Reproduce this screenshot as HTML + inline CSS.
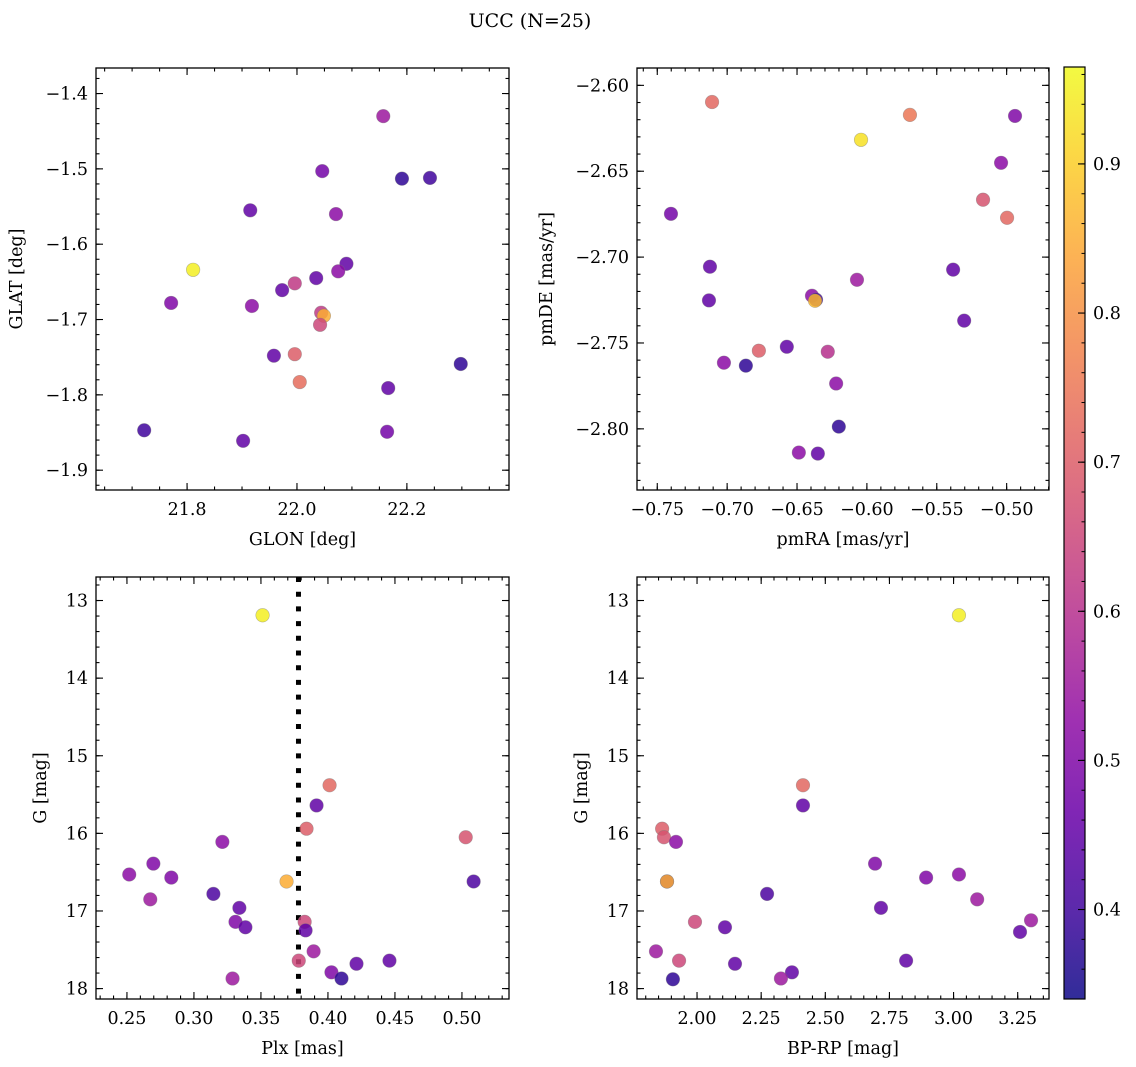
<!DOCTYPE html>
<html><head><meta charset="utf-8"><style>
html,body{margin:0;padding:0;background:#fff;}
svg{display:block;font-family:"DejaVu Serif","Liberation Serif",serif;}
</style></head><body>
<svg id="fig" width="1136" height="1067" viewBox="0 0 1136 1067" xmlns="http://www.w3.org/2000/svg">
<text x="530" y="27" font-size="19" text-anchor="middle">UCC (N=25)</text>
</svg>
<script>
// ---- data ----
const glon = [22.157,22.046,22.191,22.242,21.915,22.071,21.811,22.090,22.035,22.075,21.996,21.973,21.771,21.918,22.044,22.049,22.042,21.958,21.996,22.005,22.166,22.298,21.722,21.902,22.164];
const glat = [-1.430,-1.503,-1.513,-1.512,-1.555,-1.560,-1.634,-1.626,-1.645,-1.636,-1.652,-1.661,-1.678,-1.682,-1.691,-1.695,-1.707,-1.748,-1.746,-1.783,-1.791,-1.759,-1.847,-1.861,-1.849];
const probTL = [0.55,0.48,0.38,0.40,0.45,0.52,0.95,0.45,0.45,0.52,0.62,0.45,0.50,0.52,0.62,0.85,0.65,0.45,0.70,0.73,0.45,0.38,0.40,0.45,0.48];

const pmra = [-0.7108,-0.5692,-0.6042,-0.4940,-0.5040,-0.5169,-0.4997,-0.7402,-0.7123,-0.5383,-0.6071,-0.7130,-0.6393,-0.6364,-0.6371,-0.5304,-0.7023,-0.6866,-0.6773,-0.6573,-0.6280,-0.6220,-0.6201,-0.6487,-0.6351];
const pmde = [-2.6097,-2.6172,-2.6317,-2.6178,-2.6451,-2.6666,-2.6771,-2.6748,-2.7056,-2.7073,-2.7132,-2.7252,-2.7225,-2.7248,-2.7254,-2.7370,-2.7615,-2.7632,-2.7545,-2.7522,-2.7551,-2.7736,-2.7987,-2.8138,-2.8144];
const probTR = [0.72,0.75,0.93,0.50,0.52,0.68,0.72,0.48,0.45,0.45,0.55,0.45,0.52,0.40,0.87,0.45,0.52,0.38,0.70,0.45,0.60,0.52,0.38,0.52,0.45];

const plx = [0.3512,0.4012,0.3915,0.3840,0.5028,0.3212,0.2697,0.2517,0.2831,0.2674,0.5087,0.3691,0.3145,0.3339,0.3310,0.3384,0.3826,0.3833,0.3893,0.3782,0.4213,0.4459,0.4026,0.4101,0.3288];
const gmagL = [13.19,15.38,15.64,15.94,16.05,16.11,16.39,16.53,16.57,16.85,16.62,16.62,16.78,16.96,17.14,17.21,17.14,17.25,17.52,17.64,17.68,17.64,17.79,17.87,17.87];
const probBL = [0.95,0.72,0.45,0.70,0.68,0.52,0.50,0.52,0.50,0.55,0.42,0.85,0.42,0.45,0.50,0.45,0.65,0.45,0.55,0.65,0.45,0.45,0.50,0.38,0.55];
const plxCut = [0.378];

const bprp = [3.021,2.413,2.413,1.864,1.871,1.918,2.694,3.021,2.893,3.092,1.883,1.883,2.273,2.717,3.302,3.259,2.109,1.992,1.840,1.930,2.148,2.815,2.370,2.327,1.906];
const gmagR = [13.19,15.38,15.64,15.94,16.05,16.11,16.39,16.53,16.57,16.85,16.62,16.62,16.78,16.96,17.12,17.27,17.21,17.14,17.52,17.64,17.68,17.64,17.79,17.87,17.88];
const probBR = [0.95,0.72,0.45,0.70,0.68,0.52,0.50,0.52,0.50,0.55,0.42,0.85,0.42,0.45,0.55,0.45,0.45,0.65,0.55,0.65,0.45,0.45,0.45,0.55,0.38];

const cbTicks = [0.4,0.5,0.6,0.7,0.8,0.9];
const cMin = 0.34, cMax = 0.965;

// ---- helpers ----
const NS = "http://www.w3.org/2000/svg";
const svg = document.getElementById('fig');
function mk(tag, attrs, parent){const e=document.createElementNS(NS,tag);for(const k in attrs)e.setAttribute(k,attrs[k]);(parent||svg).appendChild(e);return e;}
const stops=["#0d0887","#41049d","#6a00a8","#8f0da4","#b12a90","#cc4778","#e16462","#f2844b","#fca636","#fcce25","#f0f921"];
function hex(h){return [parseInt(h.substr(1,2),16),parseInt(h.substr(3,2),16),parseInt(h.substr(5,2),16)];}
function plasma(t){t=Math.max(0,Math.min(1,t));const f=t*10,i=Math.min(9,Math.floor(f)),r=f-i;const a=hex(stops[i]),b=hex(stops[i+1]);
 return "rgb("+a.map((v,k)=>Math.round(v+(b[k]-v)*r)).join(",")+")";}
function cmap(v){return plasma((v-cMin)/(cMax-cMin));}
function fmt(v,d){const s=Math.abs(v).toFixed(d);return (v<-1e-9?"\u2212":"")+s;}
const FS=17.5;

function panel(o){
  const g=mk('g',{});
  
  
  const sx=v=>o.x0+(v-o.xmin)/(o.xmax-o.xmin)*(o.x1-o.x0);
  const sy=o.inv ? (v=>o.y0+(v-o.ymin)/(o.ymax-o.ymin)*(o.y1-o.y0)) : (v=>o.y0+(o.ymax-v)/(o.ymax-o.ymin)*(o.y1-o.y0));
  const tg=mk('g',{stroke:'#000','stroke-width':1.1},g);
  
  
  function ticksX(step,len){const s=Math.ceil(o.xmin/step-1e-6);for(let k=s;k*step<=o.xmax+1e-9;k++){const X=sx(k*step);
    mk('line',{x1:X,x2:X,y1:o.y1,y2:o.y1-len},tg);mk('line',{x1:X,x2:X,y1:o.y0,y2:o.y0+len},tg);}}
  function ticksY(step,len){const s=Math.ceil(o.ymin/step-1e-6);for(let k=s;k*step<=o.ymax+1e-9;k++){const Y=sy(k*step);
    mk('line',{x1:o.x0,x2:o.x0+len,y1:Y,y2:Y},tg);mk('line',{x1:o.x1,x2:o.x1-len,y1:Y,y2:Y},tg);}}
  ticksX(o.xminor,3.5);ticksX(o.xmajor,7);ticksY(o.yminor,3.5);ticksY(o.ymajor,7);
  o.xticks.forEach(v=>{const t=mk('text',{x:sx(v),y:o.y1+25,'font-size':FS,'text-anchor':'middle'},g);t.textContent=fmt(v,o.xd);
    });
  o.yticks.forEach(v=>{const t=mk('text',{x:o.x0-8,y:sy(v)+6,'font-size':FS,'text-anchor':'end'},g);t.textContent=fmt(v,o.yd);
    });
  const xl=mk('text',{x:(o.x0+o.x1)/2,y:o.y1+55,'font-size':FS,'text-anchor':'middle'},g);xl.textContent=o.xlabel;
  
  const yl=mk('text',{x:o.ylx,y:(o.y0+o.y1)/2,'font-size':FS,'text-anchor':'middle',transform:`rotate(-90 ${o.ylx} ${(o.y0+o.y1)/2})`},g);yl.textContent=o.ylabel;
  
  if(o.vline){o.vline.forEach(v=>{const l=mk('line',{x1:sx(v),x2:sx(v),y1:o.y0,y2:o.y1,stroke:'#000','stroke-width':5,'stroke-dasharray':'5 9.7'},g);
    });}
  const pg=mk('g',{},g);
  
  
  o.xs.forEach((v,i)=>{const c=mk('circle',{cx:sx(v),cy:sy(o.ys[i]),r:6.8,fill:cmap(o.cs[i]),'fill-opacity':0.85,stroke:'#777','stroke-opacity':0.5,'stroke-width':0.6},pg);
    });
  const f=mk('rect',{x:o.x0,y:o.y0,width:o.x1-o.x0,height:o.y1-o.y0,fill:'none',stroke:'#000','stroke-width':1.3},g);
  
}

panel({name:'glon-glat-panel',x0:96,x1:509,y0:68,y1:490,xmin:21.6343,xmax:22.3858,ymin:-1.9263,ymax:-1.3661,
 xmajor:0.2,xminor:0.05,ymajor:0.1,yminor:0.02,xticks:[21.8,22.0,22.2],xd:1,yticks:[-1.4,-1.5,-1.6,-1.7,-1.8,-1.9],yd:1,
 xlabel:'GLON [deg]',ylabel:'GLAT [deg]',ylx:22,xs:glon,ys:glat,cs:probTL});
panel({name:'pm-panel',x0:637,x1:1049,y0:68,y1:490,xmin:-0.7645,xmax:-0.4697,ymin:-2.8356,ymax:-2.5899,
 xmajor:0.05,xminor:0.01,ymajor:0.05,yminor:0.01,xticks:[-0.75,-0.70,-0.65,-0.60,-0.55,-0.50],xd:2,yticks:[-2.60,-2.65,-2.70,-2.75,-2.80],yd:2,
 xlabel:'pmRA [mas/yr]',ylabel:'pmDE [mas/yr]',ylx:552,xs:pmra,ys:pmde,cs:probTR});
panel({name:'plx-g-panel',x0:96,x1:509,y0:577,y1:999,xmin:0.2269,xmax:0.5351,ymin:12.697,ymax:18.134,inv:true,
 xmajor:0.05,xminor:0.01,ymajor:1,yminor:0.2,xticks:[0.25,0.30,0.35,0.40,0.45,0.50],xd:2,yticks:[13,14,15,16,17,18],yd:0,
 xlabel:'Plx [mas]',ylabel:'G [mag]',ylx:46,xs:plx,ys:gmagL,cs:probBL,vline:plxCut});
panel({name:'cmd-panel',x0:637,x1:1049,y0:577,y1:999,xmin:1.766,xmax:3.372,ymin:12.697,ymax:18.134,inv:true,
 xmajor:0.25,xminor:0.05,ymajor:1,yminor:0.2,xticks:[2.00,2.25,2.50,2.75,3.00,3.25],xd:2,yticks:[13,14,15,16,17,18],yd:0,
 xlabel:'BP-RP [mag]',ylabel:'G [mag]',ylx:587,xs:bprp,ys:gmagR,cs:probBR});

(function(){
 const x0=1064,x1=1085,y0=67,y1=999;
 const g=mk('g',{});
 
 
 const defs=mk('defs',{},g);
 const lg=mk('linearGradient',{id:'cbg',x1:0,y1:1,x2:0,y2:0},defs);
 for(let i=0;i<=20;i++){const t=i/20;mk('stop',{offset:t,'stop-color':plasma(t)},lg);}
 mk('rect',{x:x0,y:y0,width:x1-x0,height:y1-y0,fill:'url(#cbg)','fill-opacity':0.85},g);
 const sy=v=>y1-(v-cMin)/(cMax-cMin)*(y1-y0);
 for(let k=Math.ceil(cMin/0.02);k*0.02<=cMax;k++){const Y=sy(k*0.02);mk('line',{x1:x1,x2:x1-3.5,y1:Y,y2:Y,stroke:'#000','stroke-width':1},g);}
 cbTicks.forEach(v=>{const Y=sy(v);mk('line',{x1:x1,x2:x1-7,y1:Y,y2:Y,stroke:'#000','stroke-width':1.1},g);
  const t=mk('text',{x:x1+8,y:Y+6,'font-size':FS},g);t.textContent=v.toFixed(1);
  });
 mk('rect',{x:x0,y:y0,width:x1-x0,height:y1-y0,fill:'none',stroke:'#000','stroke-width':1.2},g);
})();
</script>
</body></html>
